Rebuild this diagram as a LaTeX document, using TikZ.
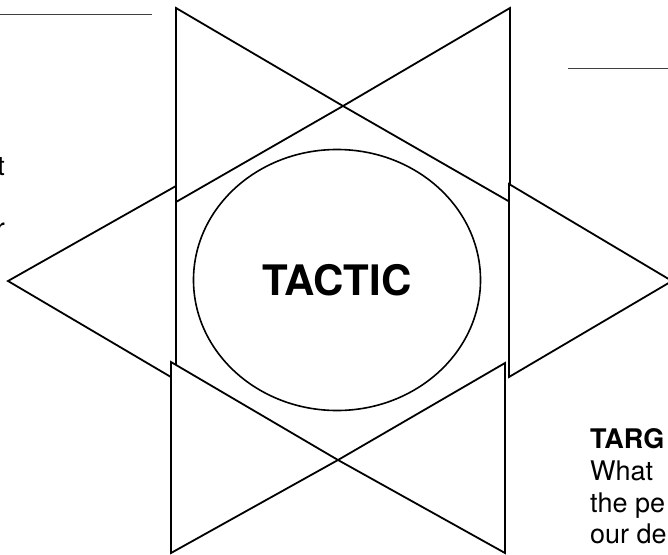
\documentclass[tikz,border=0pt]{standalone}
\usepackage{fontspec}
\setmainfont{TeX Gyre Heros}
\usetikzlibrary{shapes.geometric}
\begin{document}
\begin{tikzpicture}[x=1pt,y=-1pt,
  tri/.style={draw=black, fill=white, line width=1.8pt, line join=miter},
  rulebar/.style={draw=black!75, line width=1pt},
  body/.style={font=\fontsize{27}{32}\selectfont, inner sep=0pt},
  bodybold/.style={font=\fontsize{27}{32}\selectfont\bfseries, inner sep=0pt},
]
\useasboundingbox (0,0) rectangle (668,554);
\begin{scope}
\clip (0,0) rectangle (668,554);
% field rules
\draw[rulebar] (0,14) -- (152,14);
\draw[rulebar] (568,68) -- (668,68);
% corner points of the six triangles
\coordinate (tl1) at (176,8);   \coordinate (tl2) at (176,202);
\coordinate (tr1) at (510,8);   \coordinate (tr2) at (510,202);
\coordinate (topx) at (343,106);
\coordinate (l1) at (176,186);  \coordinate (l2) at (176,380);  \coordinate (ltip) at (8,281);
\coordinate (r1) at (509,184);  \coordinate (r2) at (509,377);  \coordinate (rtip) at (672,281);
\coordinate (bl1) at (171,362); \coordinate (bl2) at (171,553);
\coordinate (br1) at (505,363); \coordinate (br2) at (505,553);
\coordinate (botx) at (338,460);
% triangles
\filldraw[tri] (tl1) -- (topx) -- (tl2) -- cycle;
\filldraw[tri] (tr1) -- (topx) -- (tr2) -- cycle;
\filldraw[tri] (l1) -- (ltip) -- (l2) -- cycle;
\filldraw[tri] (r1) -- (rtip) -- (r2) -- cycle;
\filldraw[tri] (bl1) -- (botx) -- (bl2) -- cycle;
\filldraw[tri] (br1) -- (botx) -- (br2) -- cycle;
% centre
\node[ellipse, draw=black, line width=1.6pt, minimum width=287pt, minimum height=261pt, inner sep=0pt,
      font=\fontsize{42}{42}\selectfont\bfseries] (tactic) at (337,280) {TACTIC};
% text fragments (cut by the picture's edges, as in the reference)
\node[body, anchor=base east] (leftt) at (5,175) {t};
\node[body, anchor=base east] (leftr) at (5,237) {r};
\node[bodybold, anchor=base west] (targ) at (590,448) {TARG};
\node[body, anchor=base west] (what) at (590,480) {What};
\node[body, anchor=base west] (thepe) at (590,512) {the pe};
\node[body, anchor=base west] (ourde) at (590,543) {our de};
\end{scope}
\end{tikzpicture}
\end{document}
